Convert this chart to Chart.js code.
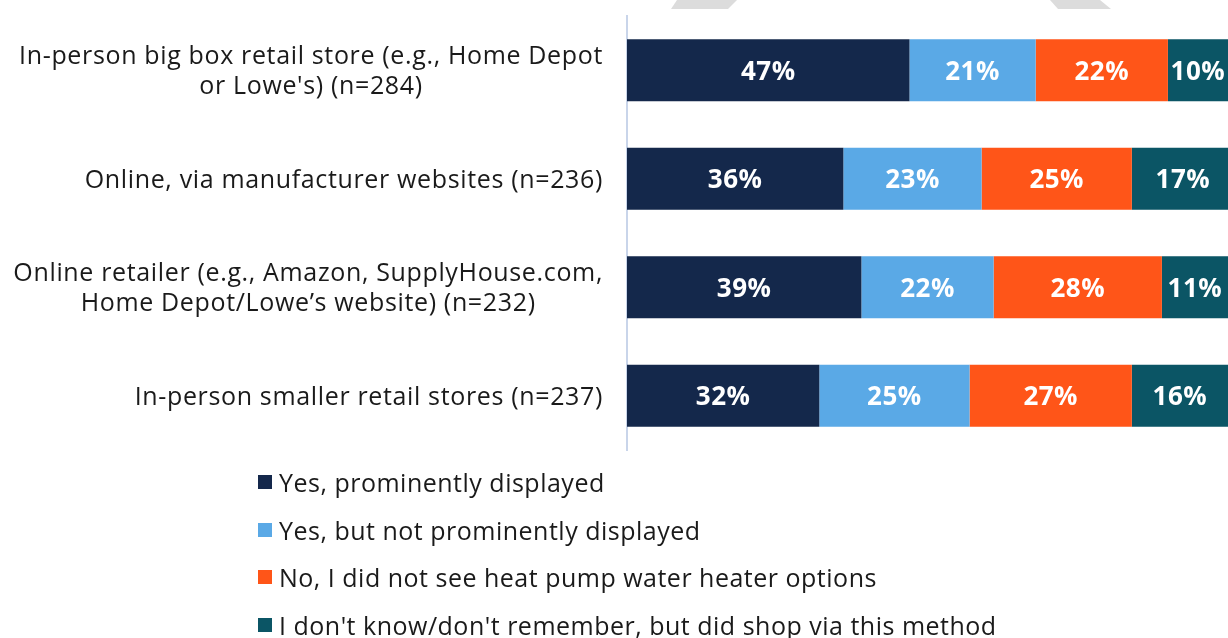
<!DOCTYPE html>
<html>
<head>
<meta charset="utf-8">
<script src="https://cdn.jsdelivr.net/npm/chart.js@4"></script>
<style>
  html, body { margin: 0; padding: 0; background: #fff; }
  #wrap { position: relative; width: 1228px; height: 638px; overflow: hidden; }
  #legend { position: absolute; left: 258px; top: 458px; font-family: "Open Sans", "Noto Sans", sans-serif; font-size: 25px; letter-spacing: 0.5px; color: #1a1a1a; }
  .li { height: 47.7px; display: flex; align-items: center; white-space: nowrap; }
  .sw { width: 14px; height: 14px; margin-right: 7px; flex: none; }
</style>
</head>
<body>
<div id="wrap">
  <canvas id="c" width="1228" height="638"></canvas>
  <div id="legend"></div>
</div>
<script>
const categories = [
  ["In-person big box retail store (e.g., Home Depot", "or Lowe's) (n=284)"],
  ["Online, via manufacturer websites (n=236)"],
  ["Online retailer (e.g., Amazon, SupplyHouse.com,", "Home Depot/Lowe\u2019s website) (n=232)"],
  ["In-person smaller retail stores (n=237)"]
];
const seriesNames = [
  "Yes, prominently displayed",
  "Yes, but not prominently displayed",
  "No, I did not see heat pump water heater options",
  "I don't know/don't remember, but did shop via this method"
];
const yesProminent = [47, 36, 39, 32];
const yesNotProminent = [21, 23, 22, 25];
const noDidNotSee = [22, 25, 28, 27];
const dontKnow = [10, 17, 11, 16];
const colors = ["#14284b", "#5aa9e6", "#ff5518", "#0b5565"];

const seriesValues = [yesProminent, yesNotProminent, noDidNotSee, dontKnow];

const LABEL_FONT = '25px "Open Sans", "Noto Sans", sans-serif';
const VALUE_FONT = 'bold 26px "Open Sans", "Noto Sans", sans-serif';

const decoPlugin = {
  id: 'deco',
  beforeDraw(chart) {
    const ctx = chart.ctx;
    ctx.save();
    ctx.fillStyle = '#dcdcdc';
    ctx.beginPath();
    ctx.moveTo(677, 0); ctx.lineTo(737, 0); ctx.lineTo(728, 9); ctx.lineTo(671, 9); ctx.closePath();
    ctx.fill();
    ctx.beginPath();
    ctx.moveTo(1050, 0); ctx.lineTo(1100, 0); ctx.lineTo(1111, 9); ctx.lineTo(1058, 9); ctx.closePath();
    ctx.fill();
    ctx.restore();
  }
};

const catLabelPlugin = {
  id: 'catLabels',
  afterDraw(chart) {
    const ctx = chart.ctx;
    const y = chart.scales.y;
    const rightEdge = chart.chartArea.left - 24;
    const lh = 30;
    ctx.save();
    ctx.font = LABEL_FONT;
    ctx.letterSpacing = '0.65px';
    ctx.fillStyle = '#1a1a1a';
    ctx.textAlign = 'center';
    ctx.textBaseline = 'middle';
    categories.forEach((lines, i) => {
      const cy = y.getPixelForTick(i) + 2;
      const w = Math.max(...lines.map(l => ctx.measureText(l).width));
      const cx = rightEdge - w / 2;
      const y0 = cy - (lines.length - 1) * lh / 2;
      lines.forEach((l, j) => ctx.fillText(l, cx, y0 + j * lh));
    });
    ctx.restore();
  }
};

const valueLabelPlugin = {
  id: 'valueLabels',
  afterDatasetsDraw(chart) {
    const ctx = chart.ctx;
    ctx.save();
    ctx.font = VALUE_FONT;
    ctx.letterSpacing = '0.5px';
    ctx.fillStyle = '#ffffff';
    ctx.textAlign = 'center';
    ctx.textBaseline = 'middle';
    chart.data.datasets.forEach((ds, di) => {
      chart.getDatasetMeta(di).data.forEach((bar, i) => {
        const cx = (bar.x + bar.base) / 2;
        ctx.fillText(ds.data[i] + '%', cx, bar.y + 2);
      });
    });
    ctx.restore();
  }
};

const chart = new Chart(document.getElementById('c'), {
  type: 'bar',
  data: {
    labels: categories.map(c => c.join(' ')),
    datasets: seriesNames.map((name, i) => ({
      label: name,
      data: seriesValues[i],
      backgroundColor: colors[i],
      borderWidth: 0,
      barPercentage: 0.57,
      categoryPercentage: 1.0
    }))
  },
  options: {
    indexAxis: 'y',
    responsive: false,
    animation: false,
    layout: { padding: { top: 16, bottom: 188, left: 0, right: 0 } },
    plugins: { legend: { display: false }, tooltip: { enabled: false } },
    scales: {
      x: {
        stacked: true, min: 0, max: 100,
        display: false
      },
      y: {
        stacked: true,
        grid: { display: false, drawTicks: false },
        border: { display: true, color: '#c9d5ea', width: 2 },
        ticks: { display: false },
        afterFit(scale) { scale.width = 627; }
      }
    }
  },
  plugins: [decoPlugin, catLabelPlugin, valueLabelPlugin]
});

const legend = document.getElementById('legend');
seriesNames.forEach((name, i) => {
  const row = document.createElement('div');
  row.className = 'li';
  const sw = document.createElement('span');
  sw.className = 'sw';
  sw.style.background = colors[i];
  const t = document.createElement('span');
  t.textContent = name;
  row.appendChild(sw); row.appendChild(t);
  legend.appendChild(row);
});
</script>
</body>
</html>
